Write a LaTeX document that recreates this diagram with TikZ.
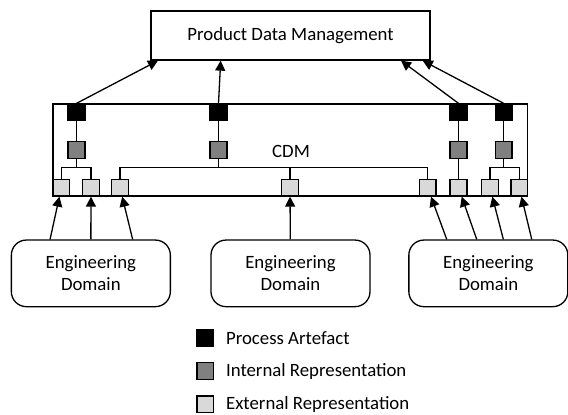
\documentclass[tikz,border=0pt]{standalone}
\usepackage{fontspec}
\setmainfont{Carlito}
\usetikzlibrary{arrows.meta,positioning}
\tikzstyle{artefact}=[rectangle,draw,fill=black,minimum size=8.4pt,inner sep=0pt]
\tikzstyle{internal}=[rectangle,draw,fill=black!50,minimum size=8.4pt,inner sep=0pt]
\tikzstyle{external}=[rectangle,draw,fill=black!15,minimum size=8.4pt,inner sep=0pt]
\tikzstyle{system}=[rectangle,draw,inner sep=0pt]
\tikzstyle{engdomain}=[rectangle,draw,rounded corners=7.5pt,align=center,minimum width=79.5pt,minimum height=33.3pt,inner sep=0pt]
\tikzstyle{edge}=[draw,-{Triangle[length=5pt,width=5pt]}]

\begin{document}
\begin{tikzpicture}[x=0.5pt,y=-0.5pt,line width=0.65pt,font=\fontsize{9.4}{11}\selectfont]
    \useasboundingbox (0,0) rectangle (568,414);

    \def\yb{112.4}
    \def\yg{150}
    \def\yx{187.6}
    \def\ybus{167.7}

    \node[system,minimum width=139.5pt,minimum height=24.5pt] (pdm) at (290.5,35.5) {Product Data Management};
    \node[system,minimum width=237.35pt,minimum height=46pt] (cdm) at (290.35,150) {};
    \node (cdmlabel) at (291,151) {CDM};

    \foreach \pos/\name in {{(76.5,\yb)/a1}, {(218.5,\yb)/a2}, {(458.5,\yb)/a3}, {(503.7,\yb)/a4}}
        \node[artefact] (\name) at \pos {};
    \foreach \pos/\name in {{(76.5,\yg)/g1}, {(218.5,\yg)/g2}, {(458.5,\yg)/g3}, {(503.7,\yg)/g4}}
        \node[internal] (\name) at \pos {};
    \foreach \pos/\name in {{(61.4,\yx)/x1}, {(91,\yx)/x2}, {(120,\yx)/x3}, {(290,\yx)/x4},
                            {(427.7,\yx)/x5}, {(458.5,\yx)/x6}, {(490,\yx)/x7}, {(519.3,\yx)/x8}}
        \node[external] (\name) at \pos {};

    % artefact -> internal
    \foreach \i in {1,2,3,4}
        \draw (a\i) -- (g\i);

    % internal -> external
    \draw (g1) -- (g1.south |- 0,\ybus);
    \draw (x1.north) |- (x2.north |- 0,\ybus) -- (x2.north);
    \draw (g2) -- (g2.south |- 0,\ybus);
    \draw (x3.north) |- (x5.north |- 0,\ybus) -- (x5.north);
    \draw (x4.north) -- (x4.north |- 0,\ybus);
    \draw (g3) -- (x6);
    \draw (g4) -- (g4.south |- 0,\ybus);
    \draw (x7.north) |- (x8.north |- 0,\ybus) -- (x8.north);

    % artefacts up to PDM
    \foreach \source/\x in {a1/158, a2/220.7, a3/401, a4/422.7}
        \path[edge] (\source.north) -- (pdm.south -| \x,0);

    \node[engdomain] (ed1) at (90.85,273.35) {Engineering\\Domain};
    \node[engdomain] (ed2) at (290.5,273.35) {Engineering\\Domain};
    \node[engdomain] (ed3) at (488.35,273.35) {Engineering\\Domain};

    \foreach \shift/\dest in {-20.4pt/x1, 0pt/x2, 20.9pt/x3}
        \path[edge] ([xshift=\shift]ed1.north) -- (\dest);
    \path[edge] (ed2) -- (x4);
    \foreach \shift/\dest in {-20.8pt/x5, -5.8pt/x6, 7.5pt/x7, 21.7pt/x8}
        \path[edge] ([xshift=\shift]ed3.north) -- (\dest);

    % legend
    \foreach \pos/\name/\kind/\txt in {(205.4,338.3)/k1/artefact/Process Artefact,
                                      (205.4,371)/k2/internal/Internal Representation,
                                      (205.4,404.3)/k3/external/External Representation}
    {
        \node[\kind] (\name) at \pos {};
        \node[right=5.5pt of \name,inner sep=0pt] (\name txt) {\txt};
    }

\end{tikzpicture}
\end{document}
